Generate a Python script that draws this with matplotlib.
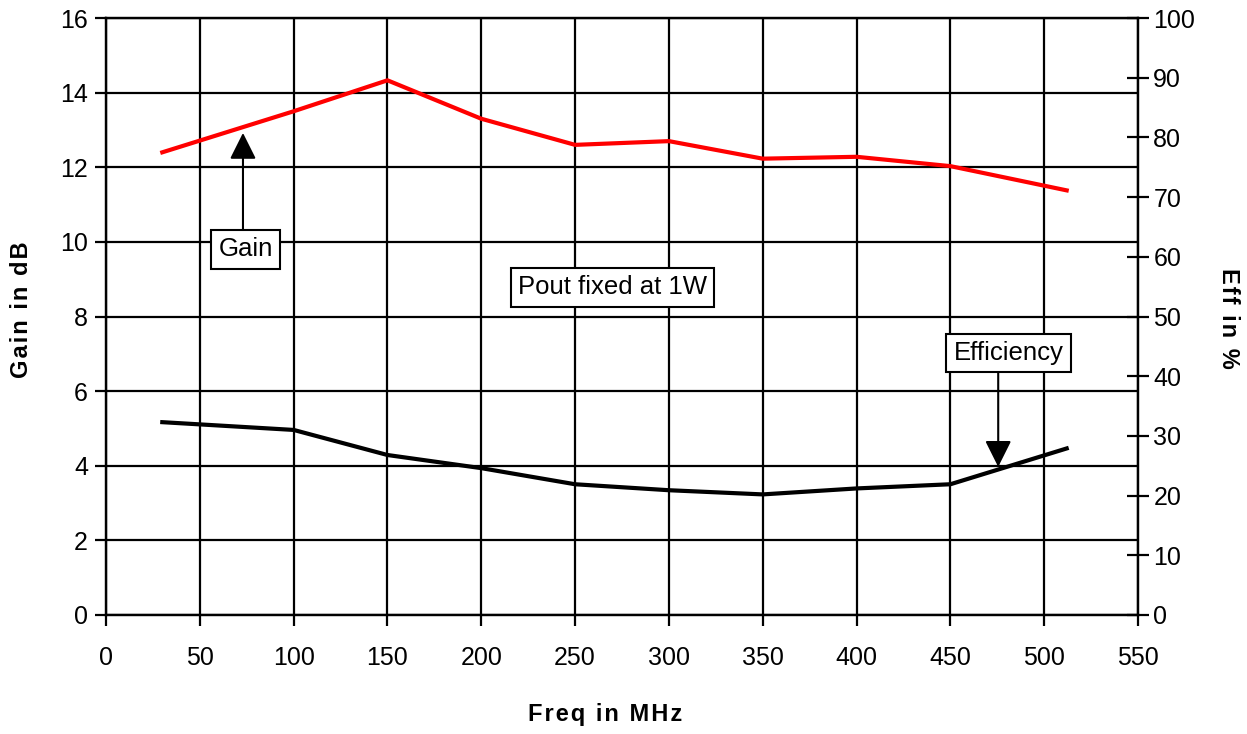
"""
gain and efficiency vs frequency, Pout fixed at 1W
"""

import matplotlib as mpl
mpl.use('Agg')
import matplotlib.pyplot as plt

# data
freq = [30, 100, 150, 200, 250, 300, 350, 400, 450, 512]
gain = [12.4, 13.5, 14.33, 13.3, 12.6, 12.7, 12.23, 12.28, 12.03, 11.38]
eff = [32.3, 31.0, 26.8, 24.6, 21.9, 20.9, 20.2, 21.2, 21.9, 27.9]

x_ticks = list(range(0, 551, 50))
gain_ticks = list(range(0, 17, 2))
eff_ticks = list(range(0, 101, 10))

ftsize = 18
plt.rc('font', family=['Liberation Sans', 'DejaVu Sans'], size=ftsize)

plot_width = 1247
plot_height = 734
fig = plt.figure(figsize=(plot_width/100, plot_height/100), dpi=100)
ax = fig.add_axes([106/plot_width, 1-615/plot_height,
                   (1138-106)/plot_width, (615-18)/plot_height])
ax2 = ax.twinx()

lw_grid = 1.6
ax.set_xlim(0, 550)
ax.set_ylim(0, 16)
ax.set_xticks(x_ticks)
ax.set_yticks(gain_ticks)
ax.grid(True, color='black', lw=lw_grid)
ax.set_axisbelow(True)
ax.tick_params(axis='both', direction='out', length=8, width=lw_grid,
               labelsize=ftsize)
ax.tick_params(axis='x', pad=14)
ax.tick_params(axis='y', pad=5)

ax2.set_ylim(0, 100)
ax2.set_yticks(eff_ticks)
ax2.tick_params(axis='y', direction='inout', length=16, width=lw_grid,
                labelsize=ftsize, pad=3)

for a in (ax, ax2):
    for s in a.spines.values():
        s.set_linewidth(lw_grid)
        s.set_color('black')

ax.plot(freq, gain, color='red', lw=3, zorder=5)
ax2.plot(freq, eff, color='black', lw=3, zorder=5)

box = dict(boxstyle='square,pad=0.28', fc='white', ec='black', lw=1.5)
arrow = dict(arrowstyle='-|>,head_length=0.9,head_width=0.45',
             color='black', lw=1.5, shrinkA=0, shrinkB=0)

ax.annotate('', xy=(73, 12.92), xytext=(73, 10.25), arrowprops=arrow,
            zorder=6)
ax.text(74.5, 9.8, 'Gain', ha='center', va='center', fontsize=18.5,
        bbox=box, zorder=7)

ax.text(270, 8.78, 'Pout fixed at 1W', ha='center', va='center',
        fontsize=18.5, bbox=box, zorder=7)

ax.annotate('', xy=(475.5, 3.97), xytext=(475.5, 6.6), arrowprops=arrow,
            zorder=6)
ax.text(481, 7.02, 'Efficiency', ha='center', va='center', fontsize=18.5,
        bbox=box, zorder=7)

sp = '\u200a'
lab = dict(fontsize=17, fontweight='bold')
fig.text(605/plot_width, 1-715/plot_height, sp.join('Freq in MHz'),
         ha='center', va='center', **lab)
fig.text(22/plot_width, 1-310/plot_height, sp.join('Gain in dB'),
         ha='center', va='center', rotation=90, **lab)
fig.text(1228/plot_width, 1-318/plot_height, sp.join('Eff in %'),
         ha='center', va='center', rotation=-90, **lab)

fig.savefig('out.png', dpi=100)
plt.close('all')
